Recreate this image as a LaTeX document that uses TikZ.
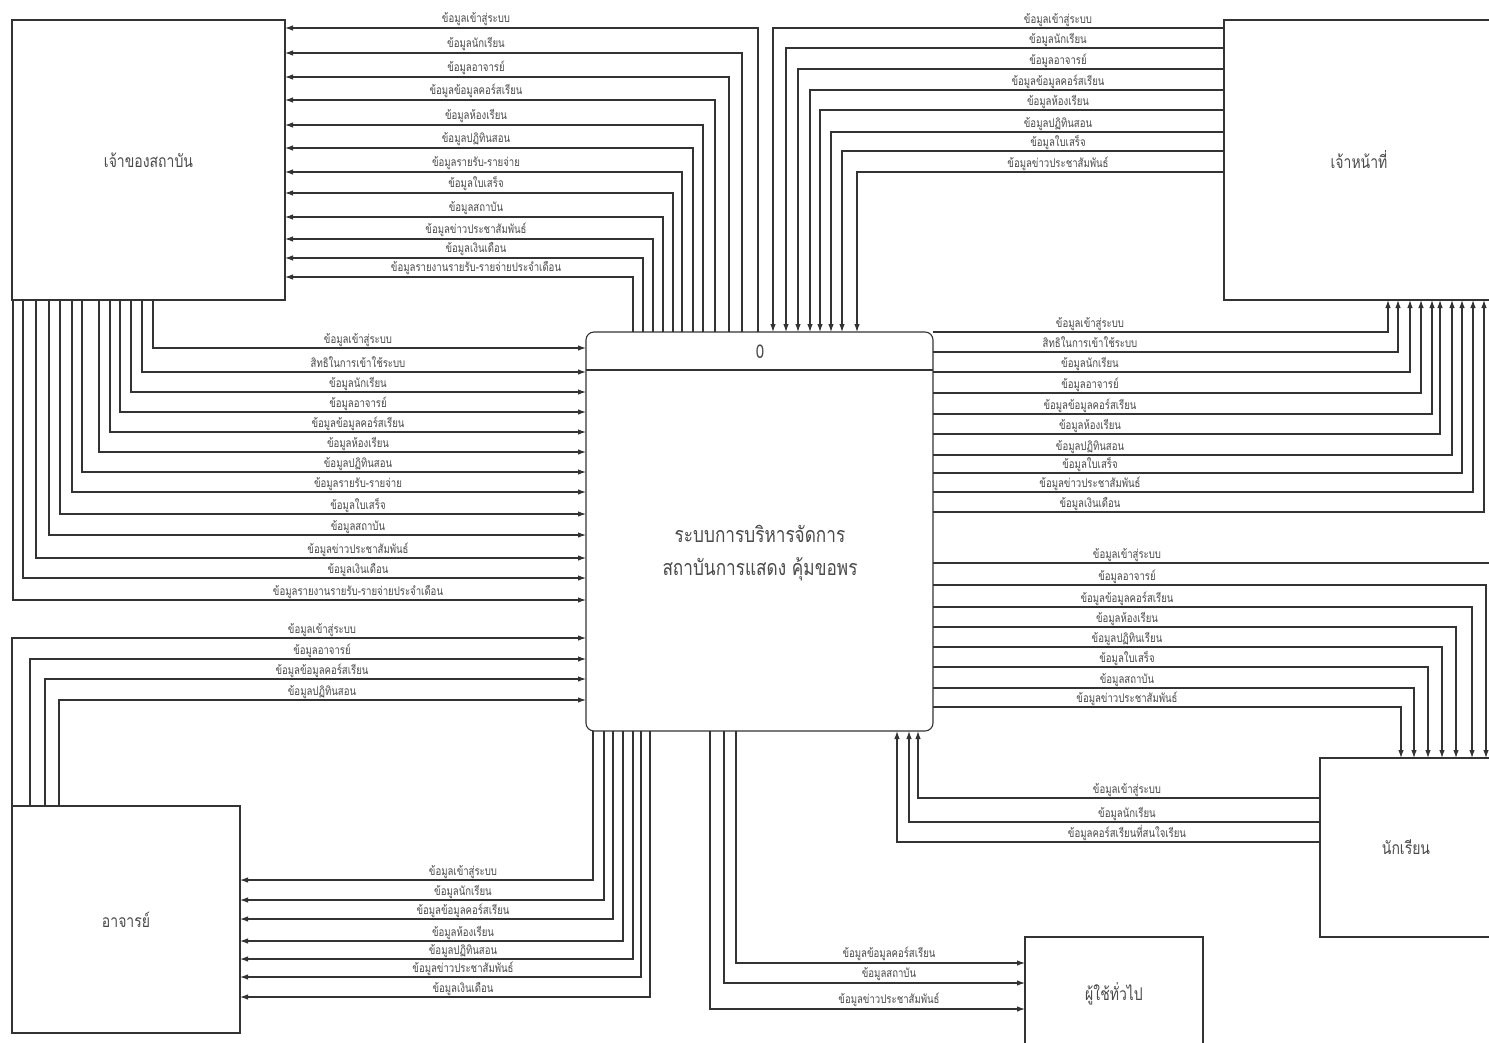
\documentclass[tikz,border=0pt]{standalone}
\usepackage{fontspec}
\newfontfamily\thai[Script=Thai,FakeStretch=0.8]{Loma}
\usetikzlibrary{arrows.meta}
\definecolor{ink}{HTML}{333333}
\definecolor{txt}{HTML}{4A4A4A}
\begin{document}
\begin{tikzpicture}[x=1pt,y=-1pt,
  flow/.style={draw=ink, line width=1.1pt, -{Latex[length=8pt,width=5.5pt]}},
  lbl/.style={font=\thai\fontsize{12}{14}\selectfont, text=txt, inner sep=0pt, anchor=base},
  ent/.style={draw=ink, line width=1.1pt, inner sep=0pt, outer sep=0pt, anchor=north west,
              font=\thai\fontsize{17.5}{20}\selectfont, text=txt},
  big/.style={font=\thai\fontsize{21.5}{33}\selectfont, text=txt, align=center}]
\useasboundingbox (0,0) rectangle (1489,1042);
\fill[white] (0,0) rectangle (1489,1042);
\begin{scope}
\clip (0,0) rectangle (1489,1042);
% external entities
\node[ent, minimum width=273, minimum height=280] (owner) at (12,20) {เจ้าของสถาบัน};
\node[ent, minimum width=270, minimum height=280] (staff) at (1224,20) {เจ้าหน้าที่};
\node[ent, minimum width=172, minimum height=179] (student) at (1320,758) {นักเรียน};
\node[ent, minimum width=228, minimum height=227] (teacher) at (12,806) {อาจารย์};
\node[ent, minimum width=178, minimum height=113] (public) at (1025,937) {ผู้ใช้ทั่วไป};
% process
\node[draw=ink, line width=1.1pt, rounded corners=8pt, minimum width=347, minimum height=399,
      anchor=north west, inner sep=0pt, outer sep=0pt] (proc) at (586,332) {};
\draw[ink, line width=1.1pt] (proc.west |- 0,370) -- (proc.east |- 0,370);
\node[big, font=\thai\fontsize{19}{22}\selectfont] (pid) at (760,352) {0};
\node[big] (pname) at (760,553) {ระบบการบริหารจัดการ\\สถาบันการแสดง คุ้มขอพร};
% process -> owner
\foreach \x/\y/\t in {758/28/ข้อมูลเข้าสู่ระบบ, 742/53/ข้อมูลนักเรียน, 729/77/ข้อมูลอาจารย์,
  715/100/ข้อมูลข้อมูลคอร์สเรียน, 703/125/ข้อมูลห้องเรียน, 693/148/ข้อมูลปฏิทินสอน,
  682/172/ข้อมูลรายรับ-รายจ่าย, 673/193/ข้อมูลใบเสร็จ, 663/217/ข้อมูลสถาบัน,
  653/239/ข้อมูลข่าวประชาสัมพันธ์, 643/258/ข้อมูลเงินเดือน,
  633/277/ข้อมูลรายงานรายรับ-รายจ่ายประจำเดือน}{
  \draw[flow] (proc.north -| \x,0) |- (owner.east |- 0,\y);
  \node[lbl] (la\y) at (476,\y-6) {\t};
}
% owner -> process
\foreach \x/\y/\t in {153/348/ข้อมูลเข้าสู่ระบบ, 142/372/สิทธิในการเข้าใช้ระบบ, 131/392/ข้อมูลนักเรียน,
  120/412/ข้อมูลอาจารย์, 110/432/ข้อมูลข้อมูลคอร์สเรียน, 99/452/ข้อมูลห้องเรียน,
  82/472/ข้อมูลปฏิทินสอน, 72/492/ข้อมูลรายรับ-รายจ่าย, 60/514/ข้อมูลใบเสร็จ,
  49/535/ข้อมูลสถาบัน, 36/558/ข้อมูลข่าวประชาสัมพันธ์, 23/578/ข้อมูลเงินเดือน,
  13/600/ข้อมูลรายงานรายรับ-รายจ่ายประจำเดือน}{
  \draw[flow] (owner.south -| \x,0) |- (proc.west |- 0,\y);
  \node[lbl] (lb\y) at (358,\y-5) {\t};
}
% teacher -> process
\foreach \x/\y/\t in {12/638/ข้อมูลเข้าสู่ระบบ, 30/659/ข้อมูลอาจารย์,
  45/679/ข้อมูลข้อมูลคอร์สเรียน, 59/700/ข้อมูลปฏิทินสอน}{
  \draw[flow] (teacher.north -| \x,0) |- (proc.west |- 0,\y);
  \node[lbl] (lc\y) at (322,\y-5) {\t};
}
% process -> teacher
\foreach \x/\y/\t in {593/880/ข้อมูลเข้าสู่ระบบ, 604/900/ข้อมูลนักเรียน,
  613/919/ข้อมูลข้อมูลคอร์สเรียน, 623/941/ข้อมูลห้องเรียน, 633/959/ข้อมูลปฏิทินสอน,
  641/977/ข้อมูลข่าวประชาสัมพันธ์, 650/997/ข้อมูลเงินเดือน}{
  \draw[flow] (proc.south -| \x,0) |- (teacher.east |- 0,\y);
  \node[lbl] (ld\y) at (463,\y-5) {\t};
}
% process -> public
\foreach \x/\y/\t in {736/963/ข้อมูลข้อมูลคอร์สเรียน, 724/983/ข้อมูลสถาบัน,
  710/1009/ข้อมูลข่าวประชาสัมพันธ์}{
  \draw[flow] (proc.south -| \x,0) |- (public.west |- 0,\y);
  \node[lbl] (le\y) at (889,\y-6) {\t};
}
% staff -> process
\foreach \x/\y/\t in {773/28/ข้อมูลเข้าสู่ระบบ, 786/48/ข้อมูลนักเรียน, 798/69/ข้อมูลอาจารย์,
  810/90/ข้อมูลข้อมูลคอร์สเรียน, 820/110/ข้อมูลห้องเรียน, 831/132/ข้อมูลปฏิทินสอน,
  842/151/ข้อมูลใบเสร็จ, 857/172/ข้อมูลข่าวประชาสัมพันธ์}{
  \draw[flow] (staff.west |- 0,\y) -| (proc.north -| \x,0);
  \node[lbl] (lf\y) at (1058,\y-5) {\t};
}
% process -> staff
\foreach \x/\y/\t in {1388/332/ข้อมูลเข้าสู่ระบบ, 1398/352/สิทธิในการเข้าใช้ระบบ,
  1410/372/ข้อมูลนักเรียน, 1421/393/ข้อมูลอาจารย์, 1432/414/ข้อมูลข้อมูลคอร์สเรียน,
  1440/434/ข้อมูลห้องเรียน, 1452/455/ข้อมูลปฏิทินสอน, 1462/473/ข้อมูลใบเสร็จ,
  1473/492/ข้อมูลข่าวประชาสัมพันธ์, 1484/512/ข้อมูลเงินเดือน}{
  \draw[flow] (proc.east |- 0,\y) -| (staff.south -| \x,0);
  \node[lbl] (lg\y) at (1090,\y-5) {\t};
}
% process -> student
\foreach \x/\y/\t in {1500/563/ข้อมูลเข้าสู่ระบบ, 1486/585/ข้อมูลอาจารย์,
  1472/607/ข้อมูลข้อมูลคอร์สเรียน, 1456/627/ข้อมูลห้องเรียน, 1442/647/ข้อมูลปฏิทินเรียน,
  1428/667/ข้อมูลใบเสร็จ, 1414/688/ข้อมูลสถาบัน, 1401/707/ข้อมูลข่าวประชาสัมพันธ์}{
  \draw[flow] (proc.east |- 0,\y) -| (student.north -| \x,0);
  \node[lbl] (lh\y) at (1127,\y-5) {\t};
}
% student -> process
\foreach \x/\y/\t in {918/798/ข้อมูลเข้าสู่ระบบ, 909/822/ข้อมูลนักเรียน,
  897/842/ข้อมูลคอร์สเรียนที่สนใจเรียน}{
  \draw[flow] (student.west |- 0,\y) -| (proc.south -| \x,0);
  \node[lbl] (li\y) at (1127,\y-5) {\t};
}
\end{scope}
\end{tikzpicture}
\end{document}
